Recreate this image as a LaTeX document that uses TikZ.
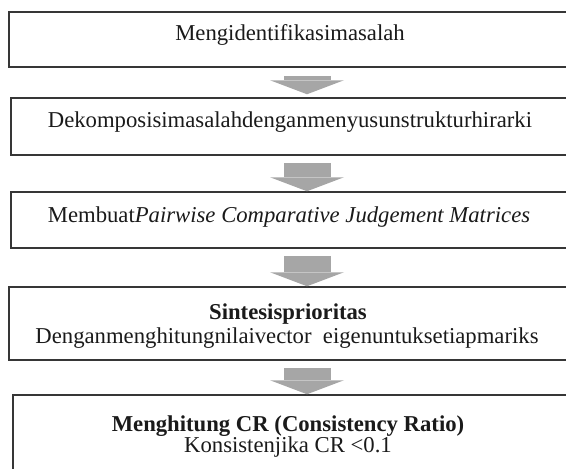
\documentclass[tikz,border=0pt]{standalone}
\usepackage{fontspec}
\setmainfont{Liberation Serif}
\usetikzlibrary{arrows.meta,positioning}
\definecolor{arrowgray}{HTML}{A6A6A6}
\definecolor{boxline}{HTML}{363636}
\definecolor{inktext}{HTML}{1A1A1A}
\tikzset{
  stepbox/.style={draw=boxline, line width=1.5pt, minimum width=560pt, inner sep=0pt},
  steptext/.style={anchor=base, inner sep=0pt, text=inktext, font=\fontsize{22.7}{26}\selectfont},
  blockarrow/.style={draw=arrowgray, line width=47pt,
    -{Triangle[width=74pt,length=14pt,line width=0pt]}}
}
\begin{document}
\begin{tikzpicture}[x=1pt,y=-1pt]
    \useasboundingbox (0,0) rectangle (566,469);
    \clip (0,0) rectangle (566,469);

    % boxes
    \node[stepbox, minimum height=55pt] (s1) at (289,39.5) {};
    \node[stepbox, minimum height=57pt] (s2) at (291,126.5) {};
    \node[stepbox, minimum height=56pt] (s3) at (291,220) {};
    \node[stepbox, minimum height=73pt] (s4) at (289,323.5) {};
    \node[stepbox, minimum height=100pt] (s5) at (293,445) {};

    % texts
    \node[steptext] (t1) at (290,40) {Mengidentifikasimasalah};
    \node[steptext] (t2) at (290,127) {Dekomposisimasalahdenganmenyusunstrukturhirarki};
    \node[steptext] (t3) at (289,222) {Membuat\textit{Pairwise Comparative Judgement Matrices}};
    \node[steptext] (t4a) at (288,319) {\textbf{Sintesisprioritas}};
    \node[steptext] (t4b) at (287,343) {Denganmenghitungnilaivector~ eigenuntuksetiapmariks};
    \node[steptext] (t5a) at (288,431) {\textbf{Menghitung CR (Consistency Ratio)}};
    \node[steptext] (t5b) at (288,452) {Konsistenjika CR <0.1};

    % gray arrows
    \coordinate (ax) at (307,0);
    \draw[blockarrow, shorten <=8pt, shorten >=3pt] (ax |- s1.south) -- (ax |- s2.north);
    \draw[blockarrow, shorten <=7pt] (ax |- s2.south) -- (ax |- s3.north);
    \draw[blockarrow, shorten <=7pt] (ax |- s3.south) -- (ax |- s4.north);
    \draw[blockarrow, shorten <=7pt] (ax |- s4.south) -- (ax |- s5.north);
\end{tikzpicture}
\end{document}
